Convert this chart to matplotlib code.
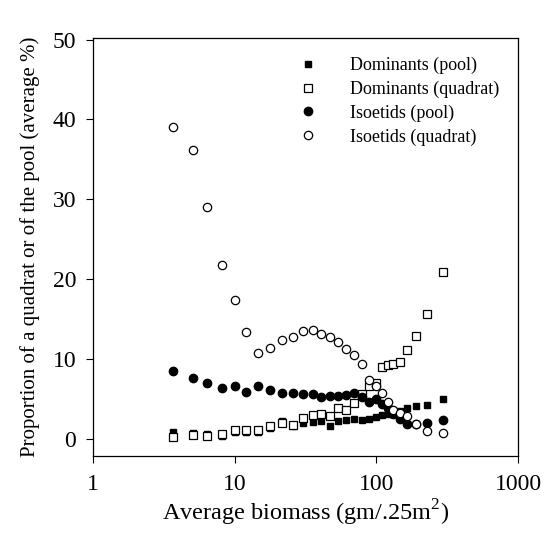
import matplotlib
matplotlib.use("Agg")
import matplotlib.pyplot as plt
import numpy as np

# biomass classes (shared x for all four series)
biomass = [3.7, 5.1, 6.4, 8.1, 10.0, 12.1, 14.6, 17.7, 21.5, 25.7, 30.5, 35.8, 41.0, 47.0,
           53.8, 61.0, 70.0, 79.0, 89.0, 99.0, 109.0, 121.0, 132.0, 146.0, 165.0, 192.0, 226.0, 294.0]

dom_pool = [0.9, 0.8, 0.7, 0.4, 0.9, 0.9, 0.9, 1.4, 2.3, 1.6, 2.0, 2.2, 2.3, 1.6,
            2.3, 2.4, 2.5, 2.4, 2.5, 2.8, 3.0, 3.1, 3.3, 3.5, 3.9, 4.1, 4.3, 5.0]
dom_quad = [0.3, 0.5, 0.4, 0.7, 1.2, 1.2, 1.1, 1.7, 2.0, 1.8, 2.7, 3.0, 3.1, 2.9,
            3.9, 3.6, 4.5, 5.6, 6.6, 7.0, 9.0, 9.3, 9.4, 9.7, 11.2, 12.9, 15.7, 20.9]
iso_pool = [8.5, 7.7, 7.0, 6.4, 6.6, 5.9, 6.6, 6.1, 5.8, 5.8, 5.7, 5.6, 5.3, 5.4,
            5.4, 5.5, 5.8, 5.3, 4.6, 5.0, 4.4, 3.9, 3.2, 2.5, 1.9, 1.9, 2.0, 2.4]
iso_quad = [39.0, 36.2, 29.0, 21.75, 17.4, 13.4, 10.8, 11.4, 12.4, 12.8, 13.5, 13.7, 13.2, 12.8,
            12.1, 11.3, 10.5, 9.4, 7.4, 6.6, 5.8, 4.6, 3.7, 3.3, 2.9, 1.9, 1.0, 0.8]

labels = ["Dominants (pool)", "Dominants (quadrat)", "Isoetids (pool)", "Isoetids (quadrat)"]
xticks = [1, 10, 100, 1000]
yticks = [0, 10, 20, 30, 40, 50]

plt.rcParams['font.family'] = ['Liberation Serif', 'DejaVu Serif']
plt.rcParams['mathtext.fontset'] = 'custom'
plt.rcParams['mathtext.rm'] = 'Liberation Serif'

fig = plt.figure(figsize=(5.47, 5.5), dpi=100)
ax = fig.add_axes([0.170, 0.171, 0.777, 0.760])

ax.plot(biomass, dom_pool, 's', color='black', markersize=5, label=labels[0])
ax.plot(biomass, dom_quad, 's', mfc='white', mec='black', mew=0.9, markersize=5.5, label=labels[1])
ax.plot(biomass, iso_pool, 'o', color='black', markersize=6, label=labels[2])
ax.plot(biomass, iso_quad, 'o', mfc='white', mec='black', mew=0.9, markersize=6, label=labels[3])

ax.set_xscale('log')
ax.set_xlim(1, 1000)
ax.set_ylim(-2.1, 50.2)
ax.set_xticks(xticks)
ax.set_xticklabels([str(t) for t in xticks])
ax.xaxis.set_minor_locator(matplotlib.ticker.NullLocator())
ax.set_yticks(yticks)
ax.tick_params(axis='both', direction='out', length=5, width=0.8, labelsize=17)
ax.tick_params(axis='x', pad=8)
ax.tick_params(axis='y', pad=7)
for s in ax.spines.values():
    s.set_linewidth(0.9)

ax.set_xlabel("Average biomass (gm/.25m$^\\mathrm{2}$)", fontsize=17.5, labelpad=2)
ax.set_ylabel("Proportion of a quadrat or of the pool (average %)", fontsize=15, labelpad=9)

ax.legend(loc='upper left', bbox_to_anchor=(0.455, 0.985), frameon=False, fontsize=13,
          handlelength=1.0, handletextpad=1.8, labelspacing=0.36, borderpad=0.2, numpoints=1)

fig.savefig("out.png", dpi=100)
